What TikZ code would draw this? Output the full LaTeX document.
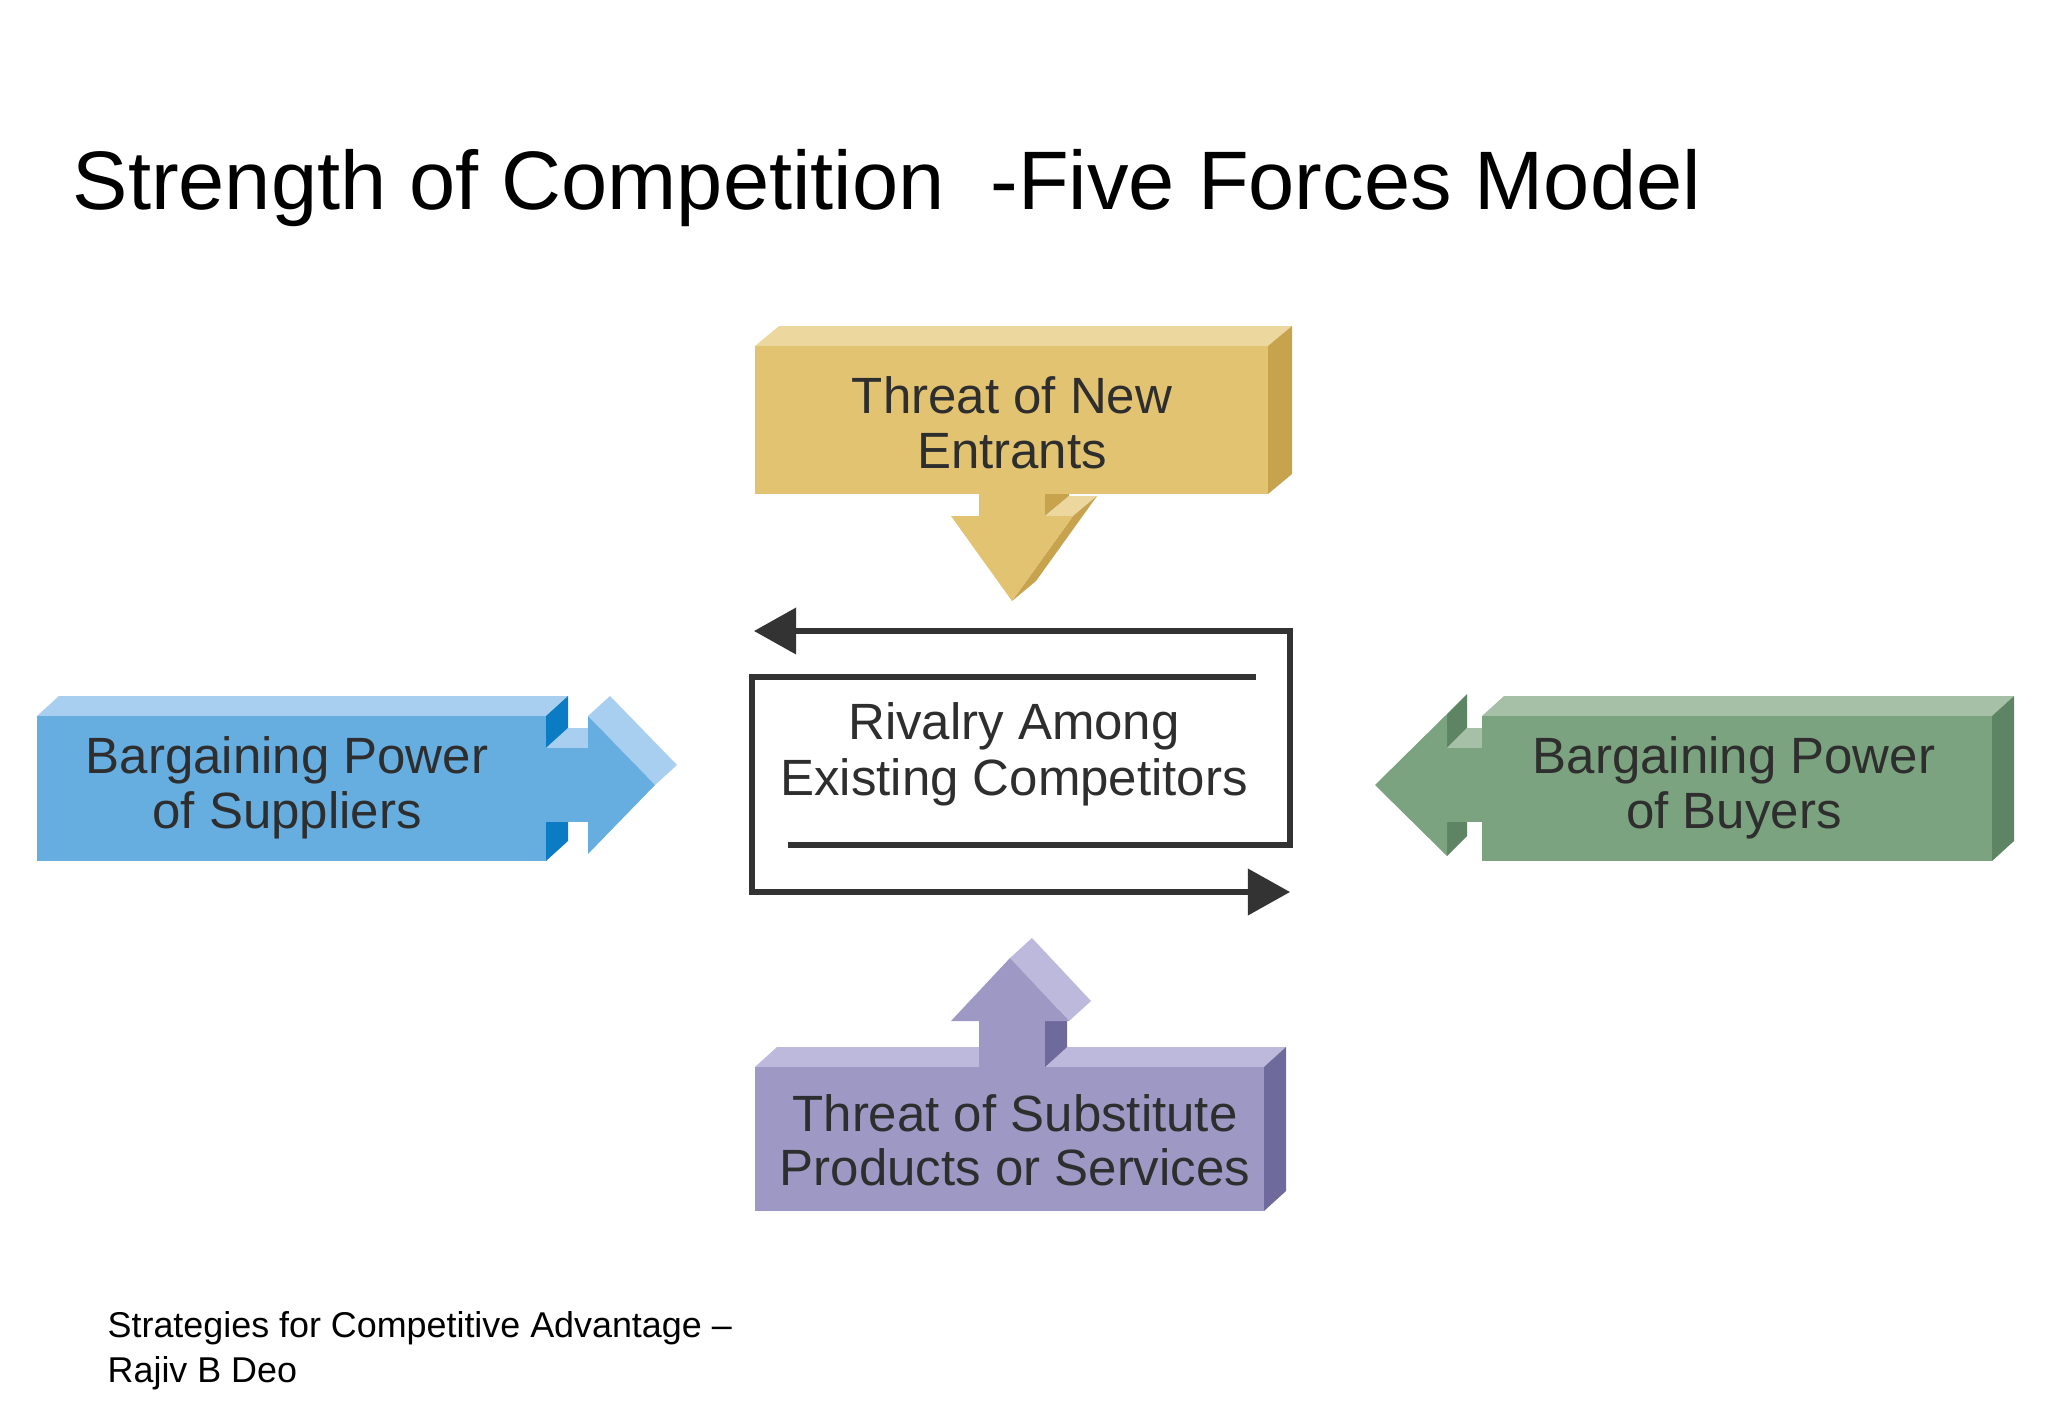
\documentclass[tikz,border=0pt]{standalone}
\usepackage{fontspec}
\setmainfont{Liberation Sans}
\usetikzlibrary{arrows.meta}
\definecolor{txt}{HTML}{2E2E2E}
\definecolor{yF}{HTML}{E2C372}\definecolor{yT}{HTML}{ECD89E}\definecolor{yS}{HTML}{C8A34E}
\definecolor{bF}{HTML}{67AEE0}\definecolor{bT}{HTML}{A8CFEF}\definecolor{bS}{HTML}{0B7CC4}
\definecolor{gF}{HTML}{7BA37F}\definecolor{gT}{HTML}{A5C0A6}\definecolor{gS}{HTML}{5E8563}
\definecolor{pF}{HTML}{9D98C4}\definecolor{pT}{HTML}{BDB9DC}\definecolor{pS}{HTML}{6F6A9C}
\definecolor{ln}{HTML}{333333}
\begin{document}
\begin{tikzpicture}[x=0.01cm,y=-0.01cm,
  lab/.style={anchor=base,inner sep=0,text=txt,font=\fontsize{14.5}{15.6}\selectfont},
  riv/.style={draw=ln,line width=1.5pt,-{Triangle[length=12pt,width=13pt]}},
  rivp/.style={draw=ln,line width=1.5pt}]
\useasboundingbox (0,0) rectangle (2048,1418);
\fill[white] (0,0) rectangle (2048,1418);
% title
\node[anchor=base west,inner sep=0,font=\fontsize{23.6}{28}\selectfont] (title) at (72,209) {Strength of Competition\ \ -Five Forces Model};
% ---- yellow
\fill[yT] (755,346)--(779,326)--(1292,326)--(1268,346)--cycle;
\fill[yS] (1268,346)--(1292,326)--(1292,474)--(1268,494)--cycle;
\fill[yF] (755,346) rectangle (1268,494);
\fill[yS] (1045,494)--(1069,494)--(1069,496)--(1045,516)--cycle;
\fill[yT] (1045,516)--(1069,496)--(1097,496)--(1073,516)--cycle;
\fill[yS] (1073,516)--(1097,496)--(1036,581)--(1012,601)--cycle;
\fill[yF] (951,516)--(1073,516)--(1012,601)--cycle;
\fill[yF] (979,493) rectangle (1045,517);
\node[lab] (y1) at (1012,413) {Threat of New};
\node[lab] (y2) at (1012,468) {Entrants};
% ---- blue
\fill[bT] (37,716)--(59,696)--(568,696)--(546,716)--cycle;
\fill[bS] (546,716)--(568,696)--(568,841)--(546,861)--cycle;
\fill[bT] (546,748)--(568,728)--(610,728)--(588,748)--cycle;
\fill[bT] (588,716)--(610,696)--(677,765)--(655,785)--cycle;
\fill[bF] (37,716) rectangle (546,861);
\fill[bF] (545,748) rectangle (590,822);
\fill[bF] (588,716)--(655,785)--(588,854)--cycle;
\node[lab] (b1) at (287,773) {Bargaining Power};
\node[lab] (b2) at (287,828) {of Suppliers};
% ---- green
\fill[gS] (1447,714)--(1467,694)--(1467,728)--(1447,748)--cycle;
\fill[gS] (1447,822)--(1467,802)--(1467,836)--(1447,856)--cycle;
\fill[gT] (1447,748)--(1467,728)--(1502,728)--(1482,748)--cycle;
\fill[gF] (1447,714)--(1447,856)--(1375,785)--cycle;
\fill[gF] (1446,748) rectangle (1483,822);
\fill[gT] (1482,716)--(1504,696)--(2014,696)--(1992,716)--cycle;
\fill[gS] (1992,716)--(2014,696)--(2014,841)--(1992,861)--cycle;
\fill[gF] (1482,716) rectangle (1992,861);
\node[lab] (g1) at (1734,773) {Bargaining Power};
\node[lab] (g2) at (1734,828) {of Buyers};
% ---- purple
\fill[pT] (755,1067)--(777,1047)--(1286,1047)--(1264,1067)--cycle;
\fill[pS] (1264,1067)--(1286,1047)--(1286,1191)--(1264,1211)--cycle;
\fill[pS] (1045,1021)--(1067,1001)--(1067,1047)--(1045,1067)--cycle;
\fill[pT] (1010,958)--(1032,938)--(1091,1001)--(1069,1021)--cycle;
\fill[pF] (951,1021)--(1010,958)--(1069,1021)--cycle;
\fill[pF] (979,1020) rectangle (1045,1068);
\fill[pF] (755,1067) rectangle (1264,1211);
\node[lab] (p1) at (1015,1131) {Threat of Substitute};
\node[lab] (p2) at (1015,1185) {Products or Services};
% ---- rivalry
\coordinate (a0) at (1256,677); \coordinate (a1) at (752,677);
\coordinate (a2) at (752,892); \coordinate (a3) at (1290,892);
\coordinate (c0) at (788,845); \coordinate (c1) at (1290,845);
\coordinate (c2) at (1290,631); \coordinate (c3) at (754,631);
\draw[riv,line join=miter] (a0)--(a1)--(a2)--(a3);
\draw[riv,line join=miter] (c0)--(c1)--(c2)--(c3);
\node[lab] (r1) at (1014,739) {Rivalry Among};
\node[lab] (r2) at (1014,795) {Existing Competitors};
% footer
\node[anchor=base west,inner sep=0,font=\fontsize{10.2}{12.5}\selectfont] (f1) at (107,1337) {Strategies for Competitive Advantage –};
\node[anchor=base west,inner sep=0,font=\fontsize{10.2}{12.5}\selectfont] (f2) at (107,1382) {Rajiv B Deo};
\end{tikzpicture}
\end{document}
